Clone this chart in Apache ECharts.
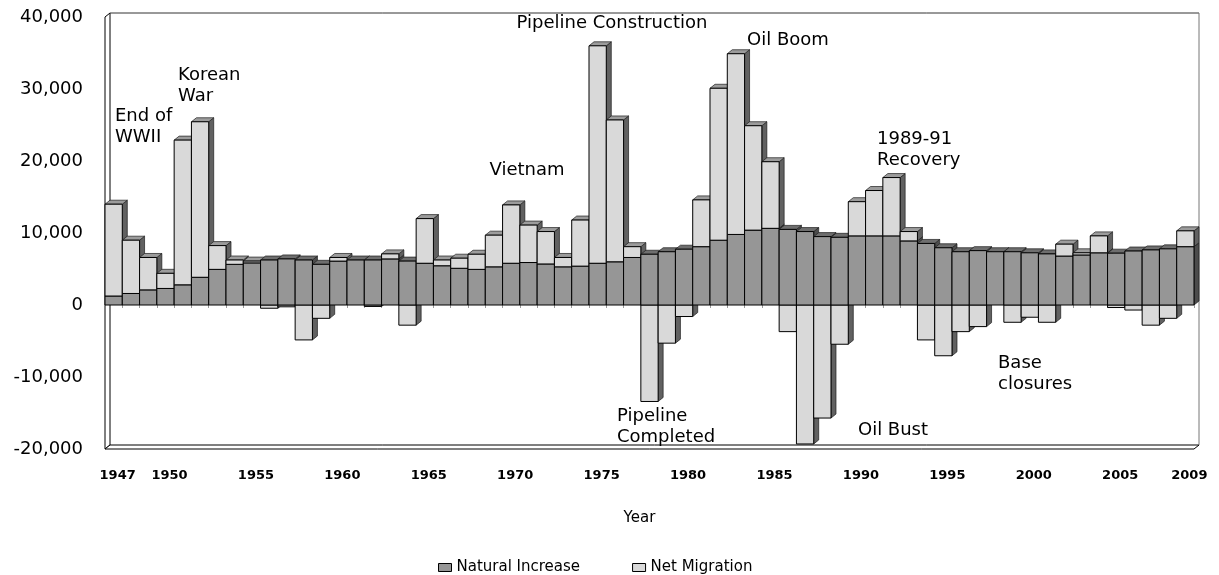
<!DOCTYPE html>
<html>
<head>
<meta charset="utf-8">
<script src="https://cdn.jsdelivr.net/npm/echarts@6/dist/echarts.min.js"></script>
<style>
  html, body { margin: 0; padding: 0; background: #ffffff; }
  #chart { width: 1219px; height: 575px; }
</style>
</head>
<body>
<div id="chart"></div>
<script>
// ---------------- data ----------------
const years = ['1947','1948','1949','1950','1951','1952','1953','1954','1955','1956',
  '1957','1958','1959','1960','1961','1962','1963','1964','1965','1966',
  '1967','1968','1969','1970','1971','1972','1973','1974','1975','1976',
  '1977','1978','1979','1980','1981','1982','1983','1984','1985','1986',
  '1987','1988','1989','1990','1991','1992','1993','1994','1995','1996',
  '1997','1998','1999','2000','2001','2002','2003','2004','2005','2006',
  '2007','2008','2009'];

const naturalIncrease = [1250,1600,2100,2300,2800,3850,4950,5650,5850,6250,
  6400,6250,5650,6100,6250,6250,6400,6100,5800,5450,
  5100,4950,5300,5800,5900,5700,5300,5400,5800,6000,
  6600,7050,7400,7750,8100,9000,9800,10400,10650,10500,
  10200,9500,9400,9600,9600,9600,8900,8550,7950,7400,
  7550,7400,7400,7250,7100,6800,6950,7250,7200,7500,
  7650,7800,8100];

const netMigration = [12750,7400,4500,2100,20100,21600,3300,600,250,-450,
  -250,-4850,-1850,500,0,-200,700,-2800,6200,800,
  1400,2100,4400,8100,5200,4500,1300,6400,30200,19700,
  1500,-13400,-5300,-1600,6500,21100,25100,14500,9250,-3700,
  -19300,-15700,-5450,4750,6300,8100,1300,-4850,-7050,-3700,
  -3000,0,-2400,-1700,-2400,1650,300,2350,-350,-700,
  -2800,-1850,2200];

const xTickLabels = ['1947','1950','1955','1960','1965','1970','1975','1980',
  '1985','1990','1995','2000','2005','2009'];

const yMin = -20000, yMax = 40000, yStep = 10000;

const seriesNames = ['Natural Increase', 'Net Migration'];

const annotations = [
  { text: 'End of\nWWII', x: 115, y: 127, align: 'left' },
  { text: 'Korean\nWar', x: 178, y: 86, align: 'left' },
  { text: 'Vietnam', x: 527, y: 170, align: 'center' },
  { text: 'Pipeline Construction', x: 612, y: 23, align: 'center' },
  { text: 'Oil Boom', x: 788, y: 40, align: 'center' },
  { text: '1989-91\nRecovery', x: 877, y: 150, align: 'left' },
  { text: 'Pipeline\nCompleted', x: 617, y: 427, align: 'left' },
  { text: 'Oil Bust', x: 893, y: 430, align: 'center' },
  { text: 'Base\nclosures', x: 998, y: 374, align: 'left' }
];

// ---------------- styling ----------------
const FONT = '"DejaVu Sans", "Liberation Sans", Arial, sans-serif';
const DX = 5, DY = 4;   // 3-D depth offset
const NAT_STYLE = { front: '#969696', top: '#6e6e6e', side: '#4c4c4c' };
const MIG_STYLE = { front: '#d9d9d9', top: '#9c9c9c', side: '#616161' };

function prism(api, i, v0, v1, st, zb) {
  const a = api.coord([i, v0]);
  const b = api.coord([i, v1]);
  const bw = api.size([1, 0])[0];
  const xl = a[0] - bw / 2, xr = a[0] + bw / 2;
  const yt = Math.min(a[1], b[1]), yb = Math.max(a[1], b[1]);
  return {
    type: 'group',
    children: [
      { type: 'polygon', z2: zb,
        shape: { points: [[xr, yt], [xr + DX, yt - DY], [xr + DX, yb - DY], [xr, yb]] },
        style: { fill: st.side, stroke: '#1e1e1e', lineWidth: 0.7 } },
      { type: 'polygon', z2: zb + 1,
        shape: { points: [[xl, yt], [xr, yt], [xr + DX, yt - DY], [xl + DX, yt - DY]] },
        style: { fill: st.top, stroke: '#1e1e1e', lineWidth: 0.7 } },
      { type: 'rect', z2: zb + 2,
        shape: { x: xl, y: yt, width: bw, height: yb - yt },
        style: { fill: st.front, stroke: '#000', lineWidth: 1 } }
    ]
  };
}

const natData = naturalIncrease.map((v, i) => [i, v]);
const migData = netMigration.map((v, i) => [i, v, v >= 0 ? naturalIncrease[i] : 0]);

const chart = echarts.init(document.getElementById('chart'), null, { renderer: 'canvas' });

const option = {
  backgroundColor: '#ffffff',
  animation: false,
  textStyle: { fontFamily: FONT },
  grid: { left: 105, right: 25, top: 17, bottom: 126, containLabel: false },
  legend: {
    data: seriesNames,
    left: 433, top: 555,
    icon: 'rect',
    itemWidth: 13, itemHeight: 8, itemGap: 52,
    itemStyle: { borderColor: '#000', borderWidth: 1 },
    textStyle: { fontFamily: FONT, fontSize: 15, color: '#000' }
  },
  xAxis: {
    type: 'category',
    data: years,
    name: 'Year',
    nameLocation: 'middle',
    nameGap: 62,
    nameTextStyle: { fontFamily: FONT, fontSize: 15, color: '#000', padding: [0, 20, 0, 0] },
    axisLine: { show: false },
    axisTick: { show: true, interval: 0, length: 3, lineStyle: { color: '#9a9a9a' } },
    axisLabel: {
      interval: (idx, val) => xTickLabels.indexOf(val) >= 0,
      fontFamily: FONT, fontSize: 13, fontWeight: 'bold', color: '#000',
      margin: 20, padding: [0, 0, 0, 8]
    },
    splitLine: { show: false }
  },
  yAxis: {
    type: 'value',
    min: yMin, max: yMax, interval: yStep,
    axisLine: { show: false },
    axisTick: { show: false },
    splitLine: { show: false },
    axisLabel: {
      fontFamily: FONT, fontSize: 18, color: '#000', margin: 22,
      padding: [8, 0, 0, 0]
    }
  },
  series: [
    {
      name: 'frame', type: 'custom', silent: true, z: 1,
      data: [[0, 0]],
      renderItem: (params, api) => {
        const c = params.coordSys;
        const x = c.x, y = c.y, w = c.width, h = c.height;
        return {
          type: 'group',
          children: [
            { type: 'polygon', shape: { points: [[x, y], [x + DX, y - DY], [x + DX, y + h - DY], [x, y + h]] },
              style: { fill: '#fff', stroke: '#000', lineWidth: 1 } },
            { type: 'polygon', shape: { points: [[x, y + h], [x + DX, y + h - DY], [x + w + DX, y + h - DY], [x + w, y + h]] },
              style: { fill: '#fff', stroke: '#000', lineWidth: 1 } },
            { type: 'polyline', shape: { points: [[x + DX, y - DY], [x + w + DX, y - DY]] },
              style: { stroke: '#333', lineWidth: 1, fill: null } },
            { type: 'polyline', shape: { points: [[x + w + DX, y - DY], [x + w + DX, y + h - DY]] },
              style: { stroke: '#777', lineWidth: 1, fill: null } }
          ]
        };
      }
    },
    {
      name: seriesNames[0], type: 'custom',
      itemStyle: { color: NAT_STYLE.front, borderColor: '#000', borderWidth: 1 },
      data: natData,
      encode: { x: 0, y: 1 },
      renderItem: (params, api) => {
        const i = api.value(0), v = api.value(1);
        return prism(api, i, 0, v, NAT_STYLE, i * 10 + 4);
      }
    },
    {
      name: seriesNames[1], type: 'custom',
      itemStyle: { color: MIG_STYLE.front, borderColor: '#000', borderWidth: 1 },
      data: migData,
      encode: { x: 0, y: 1 },
      renderItem: (params, api) => {
        const i = api.value(0), v = api.value(1), base = api.value(2);
        if (!v) return null;
        return prism(api, i, base, base + v, MIG_STYLE, v > 0 ? i * 10 + 7 : i * 10 + 1);
      }
    }
  ],
  graphic: annotations.map(a => ({
    type: 'text', x: a.x, y: a.y, silent: true, z: 10,
    style: {
      text: a.text, font: '18px ' + FONT, fill: '#000',
      align: a.align, verticalAlign: 'middle', lineHeight: 21
    }
  }))
};

chart.setOption(option);
</script>
</body>
</html>
